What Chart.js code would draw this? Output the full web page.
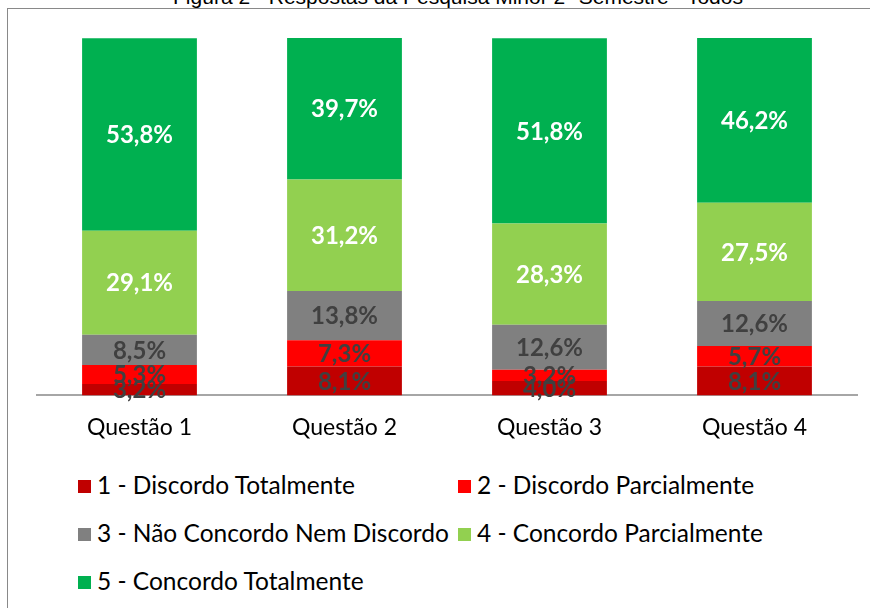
<!DOCTYPE html>
<html>
<head>
<meta charset="utf-8">
<script src="https://cdn.jsdelivr.net/npm/chart.js@4"></script>
<style>
  html, body { margin: 0; padding: 0; background: #fff; }
  #wrap { position: relative; width: 870px; height: 608px; overflow: hidden; }
  #frame { position: absolute; left: 7px; top: 8px; width: 900px; height: 700px; border: 1px solid #898989; box-sizing: border-box; }
  #title { position: absolute; left: 0; width: 916px; top: -15px; text-align: center; font: 21px "Liberation Sans", Arial, sans-serif; color: #000; }
  #chartBox { position: absolute; left: 0; top: 0; width: 870px; height: 455px; }
  #legend { position: absolute; left: 78px; top: 470px; width: 780px; font: 24.5px Lato, sans-serif; color: #000; }
  .item { position: absolute; white-space: nowrap; }
  .item span.box { display: inline-block; width: 13px; height: 13px; margin-right: 6px; vertical-align: 1px; }
</style>
</head>
<body>
<div id="wrap">
  <div id="title">Figura 2 - Respostas da Pesquisa Minor 2º Semestre - Todos</div>
  <div id="frame"></div>
  <div id="chartBox"><canvas id="myChart"></canvas></div>
  <div id="legend"></div>
</div>
<script>
var categories = ['Questão 1', 'Questão 2', 'Questão 3', 'Questão 4']
var seriesNames = ['1 - Discordo Totalmente', '2 - Discordo Parcialmente', '3 - Não Concordo Nem Discordo', '4 - Concordo Parcialmente', '5 - Concordo Totalmente']
var discordoTotal = [3.2, 8.1, 4.0, 8.1]
var discordoParcial = [5.3, 7.3, 3.2, 5.7]
var neutro = [8.5, 13.8, 12.6, 12.6]
var concordoParcial = [29.1, 31.2, 28.3, 27.5]
var concordoTotal = [53.8, 39.7, 51.8, 46.2]
var colors = ['#C00000', '#FF0000', '#808080', '#92D050', '#00B050']
var labelColors = ['#404040', '#404040', '#404040', '#ffffff', '#ffffff']

var allSeries = [discordoTotal, discordoParcial, neutro, concordoParcial, concordoTotal]
var datasets = allSeries.map(function(values, i) {
  return {
    label: seriesNames[i],
    data: values,
    backgroundColor: colors[i],
    borderWidth: 0,
    barPercentage: 0.56,
    categoryPercentage: 1
  }
})

// draws the percent value in the middle of each segment
var segmentLabels = {
  id: 'segmentLabels',
  afterDatasetsDraw: function(chart) {
    var ctx = chart.ctx
    ctx.save()
    ctx.font = 'bold 24px Lato, sans-serif'
    ctx.textAlign = 'center'
    ctx.textBaseline = 'middle'
    chart.data.datasets.forEach(function(ds, i) {
      var meta = chart.getDatasetMeta(i)
      meta.data.forEach(function(bar, j) {
        var mid = (bar.y + bar.base) / 2
        ctx.fillStyle = labelColors[i]
        ctx.fillText(ds.data[j].toFixed(1).replace('.', ',') + '%', bar.x, mid + 1)
      })
    })
    ctx.restore()
  }
}

new Chart(document.getElementById('myChart'), {
  type: 'bar',
  data: { labels: categories, datasets: datasets },
  options: {
    responsive: true,
    maintainAspectRatio: false,
    animation: false,
    layout: { padding: { top: 38, left: 37, right: 13, bottom: 4 } },
    plugins: { legend: { display: false }, tooltip: { enabled: false } },
    scales: {
      x: {
        stacked: true,
        grid: { display: false },
        border: { display: true, color: '#a6a6a6', width: 2 },
        ticks: { color: '#000', font: { family: 'Lato', size: 23 }, padding: 10 }
      },
      y: {
        stacked: true,
        display: false,
        min: 0,
        max: 100
      }
    }
  },
  plugins: [segmentLabels]
})

var legend = document.getElementById('legend')
var positions = [[0, 0], [380, 0], [0, 48], [380, 48], [0, 96]]
seriesNames.forEach(function(name, i) {
  var el = document.createElement('div')
  el.className = 'item'
  el.style.left = positions[i][0] + 'px'
  el.style.top = positions[i][1] + 'px'
  el.innerHTML = '<span class="box" style="background:' + colors[i] + '"></span>' + name
  legend.appendChild(el)
})
</script>
</body>
</html>
